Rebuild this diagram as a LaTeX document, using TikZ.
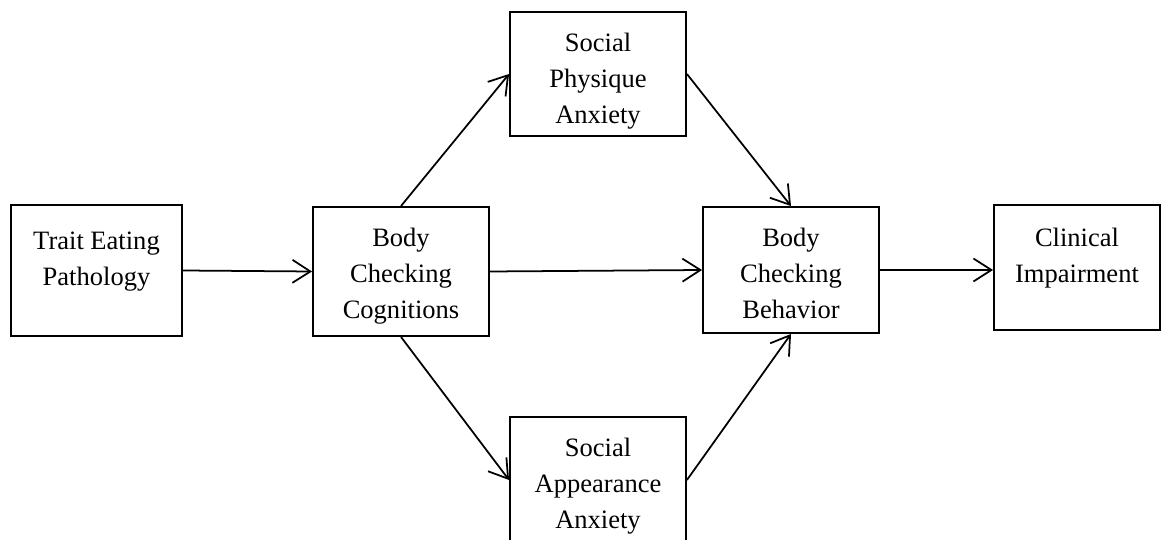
\documentclass[tikz,border=0pt]{standalone}
\usepackage{fontspec}
\setmainfont{Liberation Serif}
\usepackage{tikz}
\usetikzlibrary{arrows.meta}

\begin{document}
\begin{tikzpicture}[x=0.02cm,y=-0.02cm]
        \tikzstyle{box} = [draw,line width=1.1pt,inner sep=0pt]
        \tikzstyle{txt} = [anchor=north,inner sep=0pt,yshift=-12.6pt,align=center,
                           font=\fontsize{15.1}{20.3}\selectfont]
        \tikzstyle{link} = [line width=1pt,-{Straight Barb[length=0.36cm,width=0.46cm,line width=1pt]}]
        \useasboundingbox (0,0) rectangle (1167,540);
        % boxes
        \node[box,minimum width=3.42cm,minimum height=2.62cm] (trait) at (96.5,270.5) {};
        \node[box,minimum width=3.52cm,minimum height=2.58cm] (bcc) at (401,271.5) {};
        \node[box,minimum width=3.52cm,minimum height=2.48cm] (spa) at (598,74) {};
        \node[box,minimum width=3.52cm,minimum height=2.52cm] (saa) at (598,480) {};
        \node[box,minimum width=3.52cm,minimum height=2.52cm] (bcb) at (791,270) {};
        \node[box,minimum width=3.32cm,minimum height=2.50cm] (ci) at (1077,267.5) {};
        % texts
        \node[txt,yshift=-3.2pt] (trait-txt) at (trait.north) {Trait Eating\\Pathology};
        \node[txt] (bcc-txt) at (bcc.north) {Body\\Checking\\Cognitions};
        \node[txt] (spa-txt) at (spa.north) {Social\\Physique\\Anxiety};
        \node[txt] (saa-txt) at (saa.north) {Social\\Appearance\\Anxiety};
        \node[txt] (bcb-txt) at (bcb.north) {Body\\Checking\\Behavior};
        \node[txt,yshift=-1pt] (ci-txt) at (ci.north) {Clinical\\Impairment};
        % paths
        \draw[link] (trait.east) -- (bcc.west);
        \draw[link] (bcc.east) -- (bcb.west);
        \draw[link] (bcb.east) -- (bcb.east -| ci.west);
        \draw[link] (bcc.north) -- (spa.west);
        \draw[link] (spa.east) -- (bcb.north);
        \draw[link] (bcc.south) -- (saa.west);
        \draw[link] (saa.east) -- (bcb.south);
\end{tikzpicture}
\end{document}
